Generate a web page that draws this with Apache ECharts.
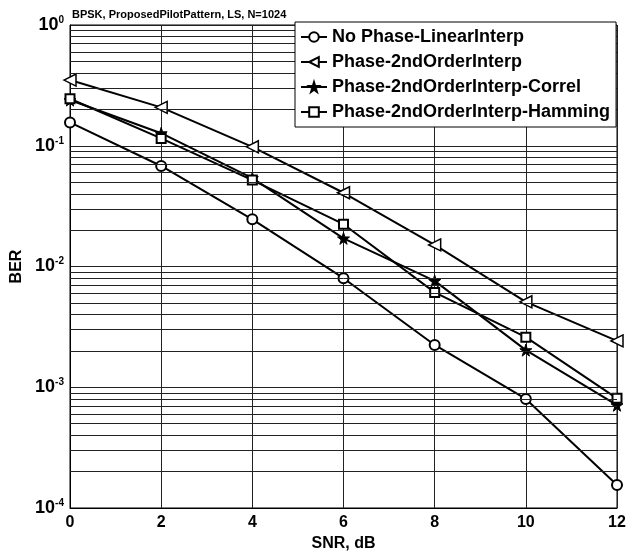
<!DOCTYPE html>
<html>
<head>
<meta charset="utf-8">
<script src="https://cdn.jsdelivr.net/npm/echarts@6/dist/echarts.min.js"></script>
<style>
  html, body { margin: 0; padding: 0; background: #fff; }
  #main { width: 640px; height: 553px; }
</style>
</head>
<body>
<div id="main"></div>
<script>
// SNR points (dB)
var snr = [0, 2, 4, 6, 8, 10, 12];

// BER curves
var noPhaseLinear  = [0.156, 0.068, 0.0246, 0.0080, 0.00224, 0.00080, 0.000155];
var phase2nd       = [0.35, 0.208, 0.098, 0.0408, 0.0151, 0.0051, 0.00242];
var phase2ndCorrel = [0.239, 0.127, 0.054, 0.0171, 0.0076, 0.00203, 0.00071];
var phase2ndHamm   = [0.245, 0.115, 0.052, 0.0224, 0.0061, 0.0026, 0.00081];

var seriesNames = [
  'No Phase-LinearInterp',
  'Phase-2ndOrderInterp',
  'Phase-2ndOrderInterp-Correl',
  'Phase-2ndOrderInterp-Hamming'
];

// decades of the log axis + minor grid multipliers
var decades = [1e-4, 1e-3, 1e-2, 1e-1];
var minorMult = [2, 3, 4, 5, 6, 7, 8, 9];

var font = 'Liberation Sans, Arial, sans-serif';
var starPath = 'path://M50,0 L61,35 L98,35 L68,57 L79,91 L50,70 L21,91 L32,57 L2,35 L39,35 Z';

function pairs(ys) {
  var out = [];
  for (var i = 0; i < snr.length; i++) out.push([snr[i], ys[i]]);
  return out;
}

// minor grid lines at 2..9 x 10^k
var minorLines = [];
decades.forEach(function (d) {
  minorMult.forEach(function (m) {
    minorLines.push({ yAxis: +(d * m).toPrecision(3) });
  });
});

function mkSeries(name, ys, symbol, size, rotate, itemStyle, extra) {
  var s = {
    name: name,
    type: 'line',
    data: pairs(ys),
    symbol: symbol,
    symbolSize: size,
    symbolRotate: rotate || 0,
    showAllSymbol: true,
    lineStyle: { color: '#000', width: 2 },
    itemStyle: itemStyle,
    emphasis: { disabled: true },
    z: 3
  };
  if (extra) s.markLine = extra;
  return s;
}

var chart = echarts.init(document.getElementById('main'));
chart.setOption({
  animation: false,
  backgroundColor: '#fff',
  textStyle: { fontFamily: font },
  title: {
    text: 'BPSK, ProposedPilotPattern, LS, N=1024',
    left: 67,
    top: 4,
    textStyle: { fontFamily: 'Liberation Sans Narrow, Arial Narrow, ' + font, fontSize: 11, fontWeight: 'bold', color: '#000' }
  },
  grid: {
    left: 70, right: 23, top: 25, bottom: 45,
    containLabel: false,
    outerBoundsMode: 'none',
    show: true, borderColor: '#000', borderWidth: 1
  },
  legend: {
    data: seriesNames,
    orient: 'vertical',
    left: 295,
    top: 22,
    padding: [5, 6, 5, 5],
    itemWidth: 26,
    itemHeight: 12,
    itemGap: 5,
    backgroundColor: '#fff',
    borderColor: '#000',
    borderWidth: 1,
    textStyle: { fontFamily: font, fontSize: 18, lineHeight: 20, fontWeight: 'bold', color: '#000' },
    z: 10
  },
  xAxis: {
    type: 'value',
    min: 0, max: 12, interval: 2,
    name: 'SNR, dB',
    nameLocation: 'middle',
    nameGap: 28,
    nameTextStyle: { fontSize: 16, fontWeight: 'bold', color: '#000' },
    axisLine: { lineStyle: { color: '#000' } },
    axisTick: { show: false },
    axisLabel: { fontSize: 16, fontWeight: 'bold', color: '#000', margin: 7 },
    splitLine: { show: true, lineStyle: { color: '#222', width: 1 } }
  },
  yAxis: {
    type: 'log',
    logBase: 10,
    min: 1e-4, max: 1,
    name: 'BER',
    nameLocation: 'middle',
    nameGap: 42,
    nameTextStyle: { fontSize: 16, fontWeight: 'bold', color: '#000' },
    axisLine: { lineStyle: { color: '#000' } },
    axisTick: { show: false },
    axisLabel: {
      margin: 6,
      formatter: function (v) {
        var e = Math.round(Math.log10(v));
        return '{b|10}{s|' + e + '}';
      },
      rich: {
        b: { fontSize: 18, fontWeight: 'bold', color: '#000', fontFamily: font },
        s: { fontSize: 10, fontWeight: 'bold', color: '#000', fontFamily: font, verticalAlign: 'top', padding: [0, 0, 10, 0] }
      }
    },
    splitLine: { show: true, lineStyle: { color: '#222', width: 1 } }
  },
  series: [
    mkSeries(seriesNames[0], noPhaseLinear, 'emptyCircle', 10, 0,
      { color: '#000', borderWidth: 1.5 }, {
      silent: true,
      symbol: 'none',
      precision: 10,
      label: { show: false },
      animation: false,
      lineStyle: { color: '#222', width: 1, type: 'solid' },
      data: minorLines
    }),
    mkSeries(seriesNames[1], phase2nd, 'triangle', 12, 90,
      { color: '#fff', borderColor: '#000', borderWidth: 1.5 }),
    mkSeries(seriesNames[2], phase2ndCorrel, starPath, 12, 0,
      { color: '#000', borderColor: '#000', borderWidth: 1 }),
    mkSeries(seriesNames[3], phase2ndHamm, 'emptyRect', 9, 0,
      { color: '#000', borderWidth: 1.5 })
  ]
});
</script>
</body>
</html>
